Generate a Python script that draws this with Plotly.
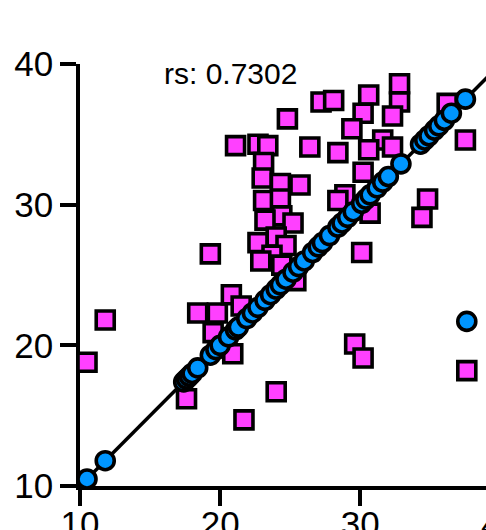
import plotly.graph_objects as go

# Paired measurements (magenta squares)
square_x = [10.5, 11.8, 17.6, 21.7, 24.0, 18.4, 19.8, 20.8, 21.5, 19.5,
            20.9, 19.3, 21.1, 22.7, 23.4, 23.1, 23.0, 24.3, 25.7, 24.8,
            26.4, 27.2, 28.1, 28.4, 30.6, 32.8, 32.8, 32.3, 30.2, 29.4,
            31.6, 32.3, 30.6, 30.2, 37.5, 36.2, 34.8, 34.4, 28.9, 23.1,
            24.3, 24.4, 23.2, 25.2, 24.0, 22.7, 24.7, 23.7, 22.9, 24.4,
            25.4, 30.1, 30.7, 29.6, 30.2, 37.6, 28.4]
square_y = [18.8, 21.8, 16.2, 14.7, 16.7, 22.3, 22.3, 23.6, 22.8, 20.9,
            19.4, 26.5, 34.2, 34.3, 34.2, 33.0, 31.9, 31.5, 31.4, 36.1,
            34.1, 37.3, 37.4, 33.7, 37.8, 38.6, 37.3, 36.3, 36.5, 35.4,
            34.6, 34.1, 33.9, 32.3, 34.6, 37.2, 30.4, 29.1, 30.7, 30.3,
            30.4, 29.2, 28.9, 28.7, 27.7, 27.3, 27.1, 26.4, 26.0, 25.7,
            24.6, 26.6, 29.4, 20.1, 19.1, 18.2, 30.3]

# Reference measurements (blue circles)
circle_x = [10.5, 11.8, 17.4, 17.6, 17.8, 18.0, 18.4, 19.3, 19.7, 20.0,
            20.6, 21.1, 21.3, 21.9, 22.3, 22.7, 23.2, 23.6, 24.0, 24.3,
            24.7, 25.2, 25.6, 26.0, 26.6, 27.0, 27.3, 27.8, 28.4, 28.7,
            29.1, 29.5, 30.1, 30.4, 30.7, 31.2, 31.6, 32.0, 32.9, 34.3,
            34.6, 34.9, 35.3, 35.6, 36.0, 36.5, 37.5, 37.6]
circle_y = [10.5, 11.8, 17.4, 17.6, 17.8, 18.0, 18.4, 19.3, 19.7, 20.0,
            20.6, 21.1, 21.3, 21.9, 22.3, 22.7, 23.2, 23.6, 24.0, 24.3,
            24.7, 25.2, 25.6, 26.0, 26.6, 27.0, 27.3, 27.8, 28.4, 28.7,
            29.1, 29.5, 30.1, 30.4, 30.7, 31.2, 31.6, 32.0, 32.9, 34.3,
            34.6, 34.9, 35.3, 35.6, 36.0, 36.5, 37.5, 21.7]

# Line of identity
line_x = [10.5, 40.0]
line_y = [10.5, 40.0]

x_ticks = [10, 20, 30, 40]
y_ticks = [10, 20, 30, 40]
x_range = [10, 38.97]
y_range = [10, 40]
rs_label = "rs: 0.7302"

PINK = "#FF40FF"
BLUE = "#0096FF"
FONT = "Liberation Sans, Arial, sans-serif"

fig = go.Figure()

fig.add_trace(go.Scatter(
    x=line_x, y=line_y, mode="lines",
    line=dict(color="black", width=3.5),
    hoverinfo="skip", showlegend=False,
))

fig.add_trace(go.Scatter(
    x=square_x, y=square_y, mode="markers",
    marker=dict(symbol="square", size=18, color=PINK,
                line=dict(color="black", width=3.6)),
    cliponaxis=False, showlegend=False,
))

fig.add_trace(go.Scatter(
    x=circle_x, y=circle_y, mode="markers",
    marker=dict(symbol="circle", size=18, color=BLUE,
                line=dict(color="black", width=3.6)),
    cliponaxis=False, showlegend=False,
))

axis_common = dict(
    showline=True, linecolor="black", linewidth=3.5,
    ticks="outside", ticklen=16, tickwidth=3.5, tickcolor="black",
    showgrid=False, zeroline=False, layer="below traces",
    automargin=False,
    tickfont=dict(family=FONT, size=35, color="black"),
)

fig.update_xaxes(range=x_range, tickvals=x_ticks, ticklabelstandoff=-12,
                 **axis_common)
fig.update_yaxes(range=y_range, tickvals=y_ticks, **axis_common)

fig.add_annotation(
    x=20.75, y=39.3, xref="x", yref="y", text=rs_label, showarrow=False,
    font=dict(family=FONT, size=30, color="black"),
    xanchor="center", yanchor="middle",
)

# The 40 tick of the x axis lies just past the right edge of the plot area;
# its label is drawn in paper units so the visible part still shows.
x40_paper = (x_ticks[-1] - x_range[0]) / (x_range[1] - x_range[0])
fig.add_annotation(
    x=x40_paper, y=0, xref="paper", yref="paper", text=str(x_ticks[-1]),
    showarrow=False, xanchor="center", yanchor="top", yshift=-17,
    font=dict(family=FONT, size=35, color="black"),
)

fig.update_layout(
    width=486, height=530,
    margin=dict(l=80, r=0, t=63.5, b=44.3),
    plot_bgcolor="white", paper_bgcolor="white",
)

fig.write_html("out.html")
